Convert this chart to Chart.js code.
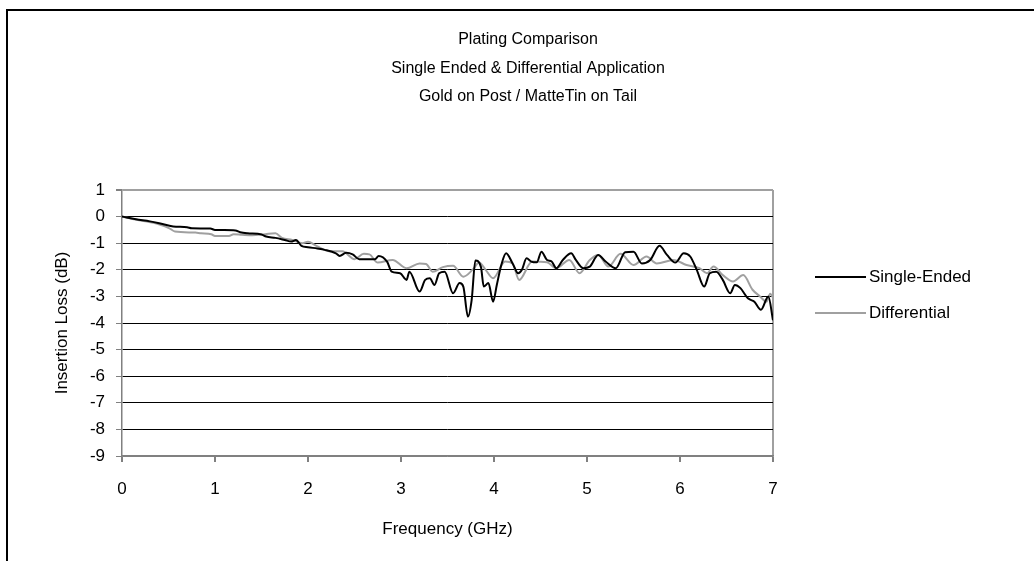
<!DOCTYPE html>
<html>
<head>
<meta charset="utf-8">
<title>Plating Comparison</title>
<script src="https://cdn.jsdelivr.net/npm/chart.js@4/dist/chart.umd.min.js"></script>
<style>
  html, body { margin: 0; padding: 0; background: #fff; }
  #wrap { width: 1034px; height: 561px; position: relative; }
</style>
</head>
<body>
<div id="wrap"><canvas id="lossChart"></canvas></div>
<script>
'use strict'

//Data ---------------------------------------------------------
const titleLines = ['Plating Comparison', 'Single Ended & Differential Application', 'Gold on Post / MatteTin on Tail'];
const seriesNames = ['Single-Ended', 'Differential'];

const freqSingle = [0, 0.15, 0.3, 0.4, 0.55, 0.7, 0.75, 0.95, 1.0, 1.22, 1.27, 1.35, 1.5, 1.55, 1.65, 1.75, 1.82, 1.87, 1.93,
  2.0, 2.1, 2.18, 2.3, 2.34, 2.41, 2.48, 2.55, 2.63, 2.72, 2.76, 2.85, 2.9, 2.99, 3.06, 3.09, 3.2, 3.26, 3.31, 3.36, 3.41,
  3.47, 3.56, 3.63, 3.67, 3.72, 3.76, 3.8, 3.86, 3.89, 3.94, 3.99, 4.03, 4.08, 4.13, 4.2, 4.26, 4.3, 4.35, 4.4, 4.46,
  4.51, 4.57, 4.62, 4.67, 4.74, 4.83, 4.88, 4.96, 5.03, 5.12, 5.2, 5.31, 5.41, 5.5, 5.59, 5.68, 5.78, 5.86, 5.95, 6.04,
  6.11, 6.18, 6.26, 6.32, 6.39, 6.46, 6.54, 6.59, 6.65, 6.73, 6.8, 6.87, 6.95, 7.0];
const lossSingle = [0, -0.1, -0.18, -0.25, -0.37, -0.4, -0.44, -0.45, -0.5, -0.52, -0.59, -0.63, -0.67, -0.75, -0.8, -0.88, -0.94, -0.88, -1.1,
  -1.15, -1.2, -1.25, -1.38, -1.48, -1.36, -1.42, -1.6, -1.6, -1.6, -1.48, -1.69, -2.07, -2.13, -2.38, -2.07, -2.82, -2.38, -2.32, -2.57, -2.13,
  -2.07, -2.88, -2.5, -2.63, -3.76, -3.13, -1.65, -1.9, -2.63, -2.5, -3.2, -2.57, -1.8, -1.38, -1.76, -2.13, -2.0, -1.57, -1.69, -1.72,
  -1.32, -1.63, -1.69, -1.94, -1.63, -1.38, -1.63, -1.94, -1.88, -1.44, -1.69, -1.94, -1.34, -1.32, -1.76, -1.63, -1.1, -1.44, -1.73, -1.38,
  -1.5, -2.0, -2.63, -2.13, -2.07, -2.38, -2.88, -2.57, -2.69, -3.07, -3.2, -3.5, -3.0, -3.9];

const freqDiff = [0, 0.1, 0.25, 0.37, 0.51, 0.57, 0.79, 0.85, 0.96, 1.0, 1.15, 1.2, 1.29, 1.4, 1.54, 1.65, 1.72, 1.83, 1.94,
  2.0, 2.09, 2.23, 2.37, 2.5, 2.6, 2.66, 2.75, 2.91, 3.06, 3.2, 3.27, 3.34, 3.45, 3.56, 3.67, 3.77, 3.84, 3.91, 3.99,
  4.12, 4.2, 4.27, 4.41, 4.57, 4.67, 4.81, 4.92, 5.03, 5.12, 5.23, 5.36, 5.5, 5.64, 5.75, 5.93, 6.07, 6.21, 6.29, 6.36,
  6.46, 6.57, 6.68, 6.78, 6.86, 6.93, 6.97, 7.0];
const lossDiff = [0, -0.08, -0.18, -0.26, -0.44, -0.56, -0.6, -0.63, -0.66, -0.73, -0.73, -0.66, -0.68, -0.7, -0.66, -0.63, -0.8, -0.88, -1.0,
  -0.95, -1.1, -1.3, -1.3, -1.6, -1.4, -1.42, -1.73, -1.63, -1.94, -1.76, -1.78, -2.07, -1.9, -1.85, -2.26, -2.0, -1.73, -2.0, -2.32,
  -1.69, -1.76, -2.38, -1.69, -1.72, -1.94, -1.63, -2.13, -1.63, -1.44, -1.88, -1.4, -1.82, -1.5, -1.76, -1.63, -1.82, -1.94, -2.13, -1.88,
  -2.2, -2.44, -2.2, -2.75, -3.0, -3.2, -2.9, -3.05];

const yTicks = [1, 0, -1, -2, -3, -4, -5, -6, -7, -8, -9];
const xTicks = [0, 1, 2, 3, 4, 5, 6, 7];

//Helpers ---------------------------------------------------------
function toPoints(xs, ys) {
  let pts = [];
  for (let i = 0; i < xs.length; i++) {
    pts.push({ x: xs[i], y: ys[i] });
  }
  return pts;
}

const FONT = "'Liberation Sans', Arial, sans-serif";

// frame, title block and legend are painted straight onto the canvas
const decorPlugin = {
  id: 'decor',
  beforeDraw(chart) {
    const ctx = chart.ctx;
    ctx.save();
    ctx.fillStyle = '#fff';
    ctx.fillRect(0, 0, chart.width, chart.height);
    ctx.strokeStyle = '#000';
    ctx.lineWidth = 2;
    ctx.beginPath();
    ctx.moveTo(7, chart.height);
    ctx.lineTo(7, 10);
    ctx.lineTo(chart.width, 10);
    ctx.stroke();
    ctx.restore();
  },
  afterDraw(chart) {
    const ctx = chart.ctx;
    ctx.save();
    ctx.fillStyle = '#000';
    ctx.font = '16px ' + FONT;
    ctx.textAlign = 'center';
    ctx.textBaseline = 'middle';
    titleLines.forEach(function (line, i) {
      ctx.fillText(line, 528, 40 + i * 28.5);
    });

    ctx.font = '17px ' + FONT;
    ctx.textAlign = 'left';
    chart.data.datasets.forEach(function (ds, i) {
      const y = 277 + i * 36;
      ctx.strokeStyle = ds.borderColor;
      ctx.lineWidth = 2;
      ctx.beginPath();
      ctx.moveTo(815, y);
      ctx.lineTo(866, y);
      ctx.stroke();
      ctx.fillText(ds.label, 869, y);
    });
    ctx.restore();
  }
};

//Chart ---------------------------------------------------------
const ctxElem = document.getElementById('lossChart').getContext('2d');

const lossChart = new Chart(ctxElem, {
  type: 'line',
  data: {
    datasets: [{
      label: seriesNames[0],
      data: toPoints(freqSingle, lossSingle),
      borderColor: '#000000',
      borderWidth: 2,
      pointRadius: 0,
      cubicInterpolationMode: 'monotone'
    }, {
      label: seriesNames[1],
      data: toPoints(freqDiff, lossDiff),
      borderColor: '#a0a0a0',
      borderWidth: 2,
      pointRadius: 0,
      cubicInterpolationMode: 'monotone'
    }]
  },
  options: {
    responsive: true,
    maintainAspectRatio: false,
    animation: false,
    layout: { padding: { left: 45, top: 190, right: 261, bottom: 0 } },
    plugins: {
      legend: { display: false },
      title: { display: false },
      tooltip: { enabled: false }
    },
    scales: {
      x: {
        type: 'linear',
        min: 0,
        max: 7,
        afterFit: function (scale) { scale.height = 105; },
        afterBuildTicks: function (scale) {
          scale.ticks = xTicks.map(function (v) { return { value: v }; });
        },
        border: { color: '#808080', width: 1.5 },
        grid: {
          drawOnChartArea: true,
          tickLength: 6,
          tickColor: '#808080',
          color: function (c) { return c.tick && c.tick.value === 7 ? '#a0a0a0' : 'rgba(0,0,0,0)'; },
          lineWidth: 2
        },
        ticks: { color: '#000', font: { family: FONT, size: 17 }, padding: 17, maxRotation: 0 },
        title: { display: true, text: 'Frequency (GHz)', color: '#000', font: { family: FONT, size: 17 }, padding: { top: 0, bottom: 21 } }
      },
      y: {
        min: -9,
        max: 1,
        afterFit: function (scale) { scale.width = 77; },
        afterBuildTicks: function (scale) {
          scale.ticks = yTicks.map(function (v) { return { value: v }; });
        },
        border: { color: '#808080', width: 1.5 },
        grid: {
          tickLength: 6,
          tickColor: '#808080',
          color: function (c) {
            if (!c.tick) return '#000';
            if (c.tick.value === 1) return '#a0a0a0';
            if (c.tick.value === -9) return '#808080';
            return '#000';
          },
          lineWidth: function (c) { return c.tick && c.tick.value === 1 ? 2 : 1; }
        },
        ticks: { color: '#000', font: { family: FONT, size: 17 }, padding: 11 },
        title: { display: true, text: 'Insertion Loss (dB)', color: '#000', font: { family: FONT, size: 17 }, padding: { top: 7, bottom: 0 } }
      }
    }
  },
  plugins: [decorPlugin]
});
</script>
</body>
</html>
